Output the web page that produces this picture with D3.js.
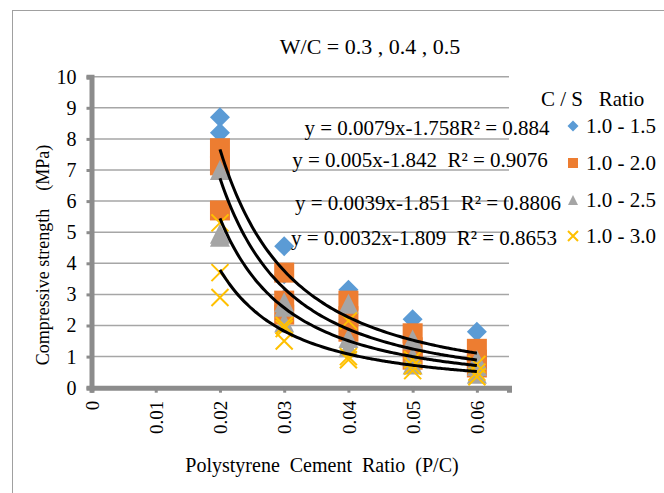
<!DOCTYPE html>
<meta charset="utf-8">
<style>
body { margin: 0; background: #fff; }
.grid line { stroke: #a6a6a6; stroke-width: 1.5px; }
</style>
<body>
<svg width="664" height="493"></svg>
<script src="https://d3js.org/d3.v7.min.js"></script>
<script>

// P/C ratio for each group of points
var pcRatio = [0.02, 0.03, 0.04, 0.05, 0.06];

// compressive strength (MPa), three W/C values (0.3, 0.4, 0.5) per P/C ratio
var cs15 = [[8.7, 8.2, 7.3], [4.55, 3.65, 2.85], [3.15, 2.2, 1.8], [2.2, 1.4, 1.1], [1.8, 1.0, 0.9]];
var cs20 = [[7.7, 7.15, 5.7], [3.7, 2.8, 2.35], [2.8, 2.3, 1.8], [1.75, 1.3, 0.9], [1.25, 0.9, 0.65]];
var cs25 = [[7.0, 4.95, 4.85], [2.75, 2.6, 2.1], [2.7, 1.6, 1.3], [1.55, 1.0, 0.75], [0.9, 0.7, 0.45]];
var cs30 = [[5.3, 3.7, 2.9], [2.0, 1.9, 1.5], [2.15, 1.0, 0.9], [0.9, 0.7, 0.55], [0.75, 0.5, 0.35]];

var seriesNames = ["1.0 - 1.5", "1.0 - 2.0", "1.0 - 2.5", "1.0 - 3.0"];
var seriesColors = ["#5b9bd5", "#ed7d31", "#a5a5a5", "#ffc000"];
var seriesShapes = ["diamond", "square", "triangle", "cross"];

// power trendlines y = a * x^b, as printed on the chart
var trendA = [0.0079, 0.005, 0.0039, 0.0032];
var trendB = [-1.758, -1.842, -1.851, -1.809];
var trendLabels = [
  "y = 0.0079x-1.758R\u00b2 = 0.884",
  "y = 0.005x-1.842  R\u00b2 = 0.9076",
  "y = 0.0039x-1.851  R\u00b2 = 0.8806",
  "y = 0.0032x-1.809  R\u00b2 = 0.8653"
];

var xTicks = [0, 0.01, 0.02, 0.03, 0.04, 0.05, 0.06];
var xTickLabels = ["0", "0.01", "0.02", "0.03", "0.04", "0.05", "0.06"];
var yTicks = [0, 1, 2, 3, 4, 5, 6, 7, 8, 9, 10];

var FONT = "Liberation Serif";

var svg = d3.select("svg");

var x = d3.scaleLinear().domain([0, 0.065]).range([91.5, 509]);
var y = d3.scaleLinear().domain([0, 10]).range([387.7, 76.7]);

// outer chart border
svg.append("rect")
    .attr("x", 12.5).attr("y", 10.5)
    .attr("width", 720).attr("height", 520)
    .attr("fill", "none").attr("stroke", "#a0a0a0");

// gridlines
svg.append("g").attr("class", "grid")
  .selectAll("line")
  .data(yTicks.slice(1))
  .enter().append("line")
    .attr("x1", x(0)).attr("x2", x(0.065))
    .attr("y1", function(d) { return y(d); })
    .attr("y2", function(d) { return y(d); });

// y axis
var yAxis = svg.append("g")
    .attr("transform", "translate(" + x(0) + ",0)")
    .call(d3.axisLeft(y).tickValues(yTicks).tickSize(5).tickPadding(10).tickFormat(d3.format("d")));
yAxis.attr("font-family", FONT).attr("font-size", 20);
yAxis.select(".domain").attr("stroke", "#8c8c8c").attr("stroke-width", 5);
yAxis.selectAll(".tick line").attr("stroke", "#8c8c8c").attr("stroke-width", 3);
yAxis.selectAll(".tick text").attr("fill", "#000");

// x axis
var xAxis = svg.append("g")
    .attr("transform", "translate(0," + y(0) + ")")
    .call(d3.axisBottom(x).tickValues(xTicks).tickSize(5)
      .tickFormat(function(d, i) { return xTickLabels[i]; }));
xAxis.attr("font-family", FONT).attr("font-size", 19);
xAxis.select(".domain").attr("stroke", "#8c8c8c").attr("stroke-width", 5);
xAxis.selectAll(".tick line").attr("stroke", "#8c8c8c").attr("stroke-width", 3);
xAxis.selectAll(".tick text")
    .attr("fill", "#000")
    .attr("text-anchor", "end")
    .attr("transform", "rotate(-90)")
    .attr("x", -13).attr("y", 0).attr("dy", ".35em");

function markerPath(shape, s) {
  if (shape === "diamond") return "M0," + (-s) + "L" + s + ",0L0," + s + "L" + (-s) + ",0Z";
  if (shape === "square") return "M" + (-s) + "," + (-s) + "h" + (2 * s) + "v" + (2 * s) + "h" + (-2 * s) + "Z";
  if (shape === "triangle") return "M0," + (-s) + "L" + s + "," + s + "L" + (-s) + "," + s + "Z";
  return "M" + (-s) + "," + (-s) + "L" + s + "," + s + "M" + s + "," + (-s) + "L" + (-s) + "," + s;
}

function drawMarker(g, shape, color, s) {
  var p = g.append("path").attr("d", markerPath(shape, s));
  if (shape === "cross") p.attr("fill", "none").attr("stroke", color).attr("stroke-width", 2);
  else p.attr("fill", color);
}

var allSeries = [cs15, cs20, cs25, cs30];
var markerSize = [10, 10, 10, 8.5];

allSeries.forEach(function(series, si) {
  var g = svg.append("g");
  series.forEach(function(vals, xi) {
    vals.forEach(function(v) {
      var m = g.append("g").attr("transform", "translate(" + x(pcRatio[xi]) + "," + y(v) + ")");
      drawMarker(m, seriesShapes[si], seriesColors[si], markerSize[si]);
    });
  });
});

// trendlines
var trendX = d3.range(0.02, 0.06001, 0.0005);
var line = d3.line()
    .x(function(d) { return x(d[0]); })
    .y(function(d) { return y(d[1]); })
    .curve(d3.curveBasis);

trendA.forEach(function(a, i) {
  svg.append("path")
      .datum(trendX.map(function(t) { return [t, a * Math.pow(t, trendB[i])]; }))
      .attr("d", line)
      .attr("fill", "none")
      .attr("stroke", "#000")
      .attr("stroke-width", 3);
});

function label(sel, size) {
  return sel.attr("font-family", FONT)
      .attr("font-size", size)
      .attr("fill", "#000")
      .attr("xml:space", "preserve")
      .style("white-space", "pre");
}

// trendline labels
var labelPos = [[427, 135], [420, 167], [428, 210], [424, 245]];
svg.append("g").selectAll("text")
  .data(trendLabels)
  .enter().append("text")
    .call(label, 21)
    .attr("x", function(d, i) { return labelPos[i][0]; })
    .attr("y", function(d, i) { return labelPos[i][1]; })
    .attr("text-anchor", "middle")
    .text(function(d) { return d; });

// title
svg.append("text").call(label, 22)
    .attr("x", 370).attr("y", 54)
    .attr("text-anchor", "middle")
    .text("W/C = 0.3 , 0.4 , 0.5");

// axis titles
svg.append("text").call(label, 18)
    .attr("transform", "translate(49,255) rotate(-90)")
    .attr("text-anchor", "middle")
    .text("Compressive strength    (MPa)");

svg.append("text").call(label, 20)
    .attr("x", 322).attr("y", 472)
    .attr("text-anchor", "middle")
    .text("Polystyrene  Cement  Ratio  (P/C)");

// legend
var legend = svg.append("g");
legend.append("text").call(label, 21)
    .attr("x", 541).attr("y", 106)
    .text("C / S   Ratio");

var legendY = [126, 163, 200, 236];
seriesNames.forEach(function(name, i) {
  var m = legend.append("g").attr("transform", "translate(573," + legendY[i] + ")");
  drawMarker(m, seriesShapes[i], seriesColors[i], i === 0 ? 5.5 : 5);
  legend.append("text").call(label, 21)
      .attr("x", 586).attr("y", legendY[i] + 7)
      .text(name);
});

</script>
</body>
</html>
